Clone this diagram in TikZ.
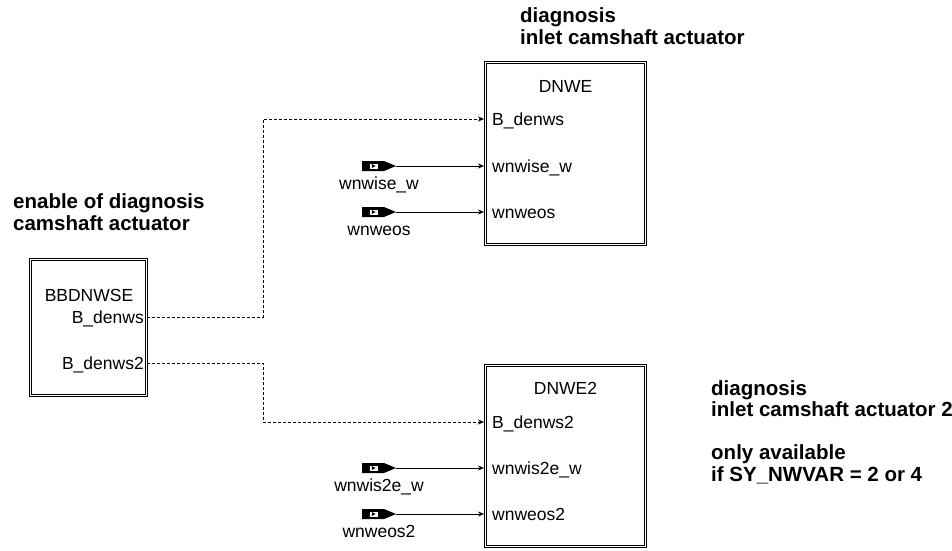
\documentclass[tikz,border=0pt]{standalone}
\usepackage{fontspec}
\setmainfont{Liberation Sans}
\usetikzlibrary{arrows.meta,positioning}

\tikzset{
  blk/.style={draw, double, double distance=1.2pt, line width=0.75pt, inner sep=0pt},
  cmt/.style={font=\bfseries\fontsize{20.5}{21.5}\selectfont, align=left, inner sep=0pt, anchor=base west},
  lbl/.style={font=\fontsize{17.5}{20}\selectfont, inner sep=0pt},
  wire/.style={line width=0.6pt, -{Stealth[length=6pt,width=5pt]}},
  flag/.style={wire, dash pattern=on 3pt off 2pt},
  inmark/.pic={
    \fill (-34,-5) -- (-12,-5) -- (0,0) -- (-12,5) -- (-34,5) -- cycle;
    \filldraw[fill=white, line width=0.5pt] (-27,-3) rectangle (-18,3);
    \fill (-24.2,-2) -- (-20.4,0) -- (-24.2,2) -- cycle;
  }
}

\begin{document}
\begin{tikzpicture}[x=1pt, y=-1pt]
\useasboundingbox (0,0) rectangle (952,550);

% Kommentare
\node[cmt] (c-bb) at (13,230) {enable of diagnosis\\camshaft actuator};
\node[cmt] (c-dnwe) at (520,44) {diagnosis\\inlet camshaft actuator};
\node[cmt] (c-dnwe2) at (711,481) {diagnosis\\inlet camshaft actuator 2\\[21.5pt]only available\\if SY\_NWVAR = 2 or 4};

% Bloecke
\node[blk, minimum width=115.6, minimum height=136] (bbdnwse) at (88.4,327.5) {};
\node[blk, minimum width=160, minimum height=182] (dnwe) at (565.5,153.5) {};
\node[blk, minimum width=160, minimum height=181] (dnwe2) at (565.5,456) {};

\node[lbl, anchor=base] (bb-t) at (89,301) {BBDNWSE};
\node[lbl, anchor=base east] (bb-p1) at (144,323) {B\_denws};
\node[lbl, anchor=base east] (bb-p2) at (144,369) {B\_denws2};

\node[lbl, anchor=base] (dnwe-t) at (565.5,92) {DNWE};
\node[lbl, anchor=base west] (dnwe-p1) at (492,125) {B\_denws};
\node[lbl, anchor=base west] (dnwe-p2) at (492,172) {wnwise\_w};
\node[lbl, anchor=base west] (dnwe-p3) at (492,218) {wnweos};

\node[lbl, anchor=base] (dnwe2-t) at (565.5,394) {DNWE2};
\node[lbl, anchor=base west] (dnwe2-p1) at (492,428) {B\_denws2};
\node[lbl, anchor=base west] (dnwe2-p2) at (492,474) {wnwis2e\_w};
\node[lbl, anchor=base west] (dnwe2-p3) at (492,520) {wnweos2};

% Anschluesse
\coordinate (bb-o1) at (147,317);
\coordinate (bb-o2) at (147,363);
\foreach \y [count=\i] in {119,166,212}
  \coordinate (dnwe-i\i) at (484,\y);
\foreach \y [count=\i] in {422,468,514}
  \coordinate (dnwe2-i\i) at (484,\y);

% Eingaenge
\foreach \y/\n/\t in {166/m1/wnwise\_w, 212/m2/wnweos, 468/m3/wnwis2e\_w, 514/m4/wnweos2} {
  \coordinate (\n) at (396,\y);
  \pic at (\n) {inmark};
  \node[lbl, anchor=base] (\n-l) at (379,\y+23) {\t};
}

\draw[wire] (m1) -- (dnwe-i2);
\draw[wire] (m2) -- (dnwe-i3);
\draw[wire] (m3) -- (dnwe2-i2);
\draw[wire] (m4) -- (dnwe2-i3);

\draw[flag] (bb-o1) -- ++(116,0) |- (dnwe-i1);
\draw[flag] (bb-o2) -- ++(116,0) |- (dnwe2-i1);
\end{tikzpicture}
\end{document}
